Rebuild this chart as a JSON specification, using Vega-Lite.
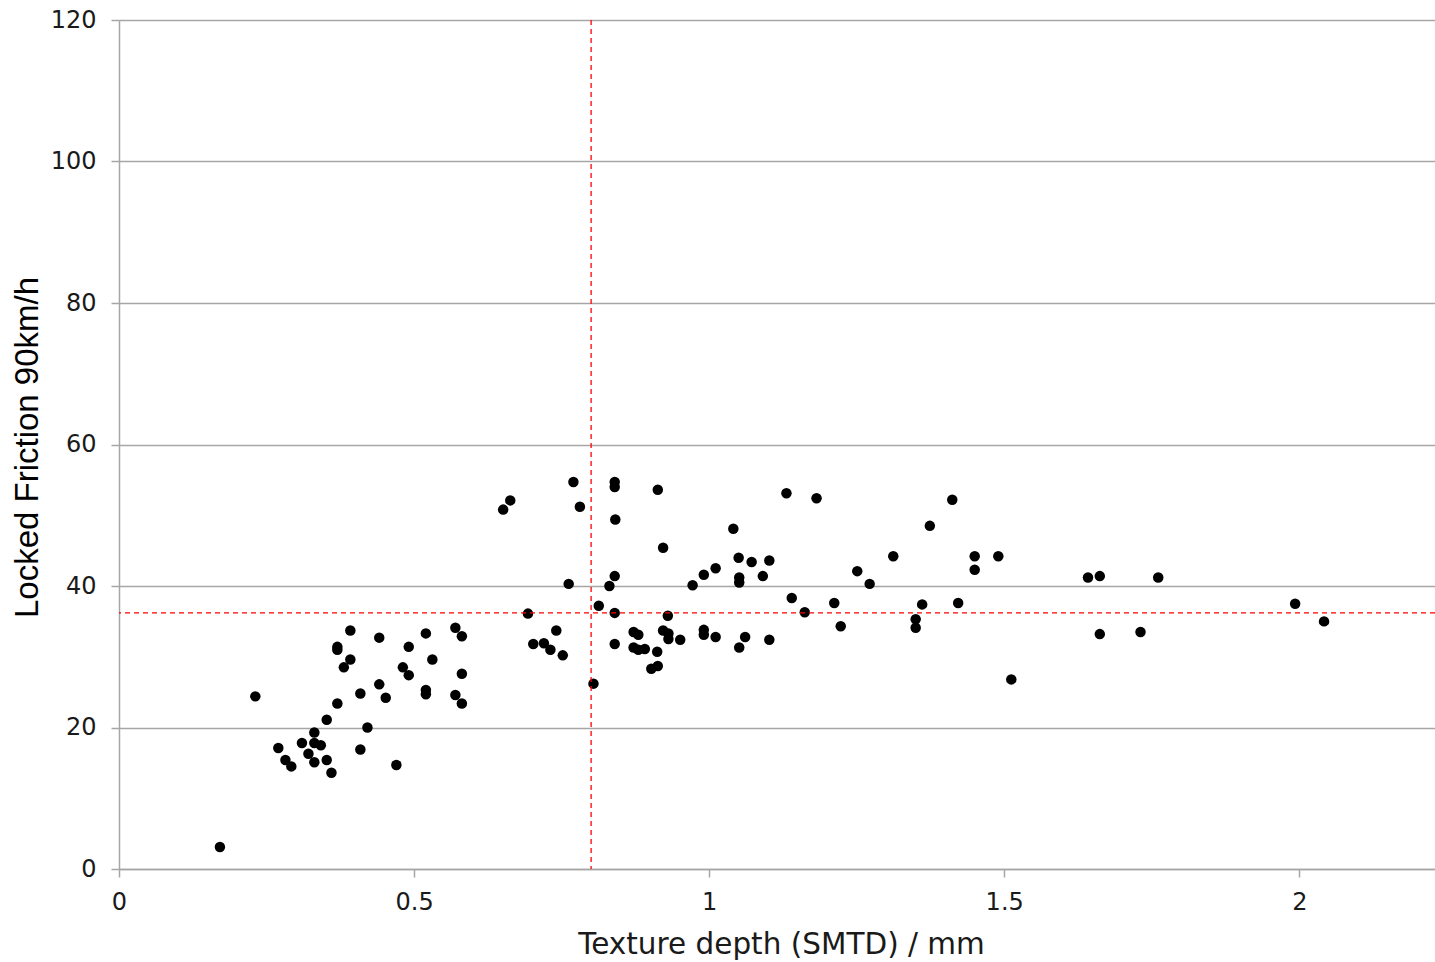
{
  "$schema": "https://vega.github.io/schema/vega-lite/v6.json",
  "width": 1316,
  "height": 849,
  "autosize": {"type": "none"},
  "padding": {"left": 119, "top": 20, "right": 0, "bottom": 93},
  "background": "white",
  "config": {"view": {"stroke": null}},
  "datasets": {
    "points": [
      {"smtd": 0.171, "friction": 3.1}, {"smtd": 0.231, "friction": 24.4}, {"smtd": 0.270, "friction": 17.1},
      {"smtd": 0.282, "friction": 15.4}, {"smtd": 0.292, "friction": 14.5}, {"smtd": 0.310, "friction": 17.8},
      {"smtd": 0.321, "friction": 16.3}, {"smtd": 0.331, "friction": 19.3}, {"smtd": 0.331, "friction": 17.8},
      {"smtd": 0.342, "friction": 17.5}, {"smtd": 0.331, "friction": 15.1}, {"smtd": 0.352, "friction": 15.4},
      {"smtd": 0.360, "friction": 13.6}, {"smtd": 0.352, "friction": 21.1}, {"smtd": 0.370, "friction": 23.4},
      {"smtd": 0.409, "friction": 16.9}, {"smtd": 0.421, "friction": 20.0}, {"smtd": 0.470, "friction": 14.7},
      {"smtd": 0.370, "friction": 31.4}, {"smtd": 0.370, "friction": 31.0}, {"smtd": 0.392, "friction": 33.7},
      {"smtd": 0.392, "friction": 29.6}, {"smtd": 0.381, "friction": 28.5}, {"smtd": 0.409, "friction": 24.8},
      {"smtd": 0.441, "friction": 32.7}, {"smtd": 0.441, "friction": 26.1}, {"smtd": 0.452, "friction": 24.2},
      {"smtd": 0.491, "friction": 31.4}, {"smtd": 0.481, "friction": 28.5}, {"smtd": 0.491, "friction": 27.4},
      {"smtd": 0.520, "friction": 33.3}, {"smtd": 0.531, "friction": 29.6}, {"smtd": 0.520, "friction": 25.3},
      {"smtd": 0.520, "friction": 24.7}, {"smtd": 0.570, "friction": 34.1}, {"smtd": 0.581, "friction": 32.9},
      {"smtd": 0.581, "friction": 27.6}, {"smtd": 0.570, "friction": 24.6}, {"smtd": 0.581, "friction": 23.4},
      {"smtd": 0.663, "friction": 52.1}, {"smtd": 0.651, "friction": 50.8}, {"smtd": 0.770, "friction": 54.7},
      {"smtd": 0.781, "friction": 51.2}, {"smtd": 0.840, "friction": 54.7}, {"smtd": 0.840, "friction": 54.0},
      {"smtd": 0.913, "friction": 53.6}, {"smtd": 0.841, "friction": 49.4}, {"smtd": 0.922, "friction": 45.4},
      {"smtd": 0.840, "friction": 41.4}, {"smtd": 0.762, "friction": 40.3}, {"smtd": 0.831, "friction": 40.0},
      {"smtd": 0.972, "friction": 40.1}, {"smtd": 0.693, "friction": 36.1}, {"smtd": 0.813, "friction": 37.2},
      {"smtd": 0.840, "friction": 36.2}, {"smtd": 0.930, "friction": 35.8}, {"smtd": 0.741, "friction": 33.7},
      {"smtd": 0.702, "friction": 31.8}, {"smtd": 0.720, "friction": 31.9}, {"smtd": 0.731, "friction": 31.0},
      {"smtd": 0.752, "friction": 30.2}, {"smtd": 0.840, "friction": 31.8}, {"smtd": 0.872, "friction": 33.5},
      {"smtd": 0.880, "friction": 33.1}, {"smtd": 0.872, "friction": 31.3}, {"smtd": 0.880, "friction": 31.0},
      {"smtd": 0.891, "friction": 31.1}, {"smtd": 0.912, "friction": 30.7}, {"smtd": 0.902, "friction": 28.3},
      {"smtd": 0.913, "friction": 28.7}, {"smtd": 0.922, "friction": 33.7}, {"smtd": 0.931, "friction": 33.3},
      {"smtd": 0.931, "friction": 32.5}, {"smtd": 0.951, "friction": 32.4}, {"smtd": 0.804, "friction": 26.2},
      {"smtd": 1.041, "friction": 48.1}, {"smtd": 1.050, "friction": 44.0}, {"smtd": 1.072, "friction": 43.4},
      {"smtd": 1.102, "friction": 43.6}, {"smtd": 1.011, "friction": 42.5}, {"smtd": 0.991, "friction": 41.6},
      {"smtd": 1.051, "friction": 41.2}, {"smtd": 1.051, "friction": 40.5}, {"smtd": 1.091, "friction": 41.4},
      {"smtd": 0.991, "friction": 33.8}, {"smtd": 0.991, "friction": 33.1}, {"smtd": 1.011, "friction": 32.8},
      {"smtd": 1.061, "friction": 32.8}, {"smtd": 1.051, "friction": 31.3}, {"smtd": 1.102, "friction": 32.4},
      {"smtd": 1.140, "friction": 38.3}, {"smtd": 1.162, "friction": 36.3}, {"smtd": 1.131, "friction": 53.1},
      {"smtd": 1.182, "friction": 52.4}, {"smtd": 1.412, "friction": 52.2}, {"smtd": 1.374, "friction": 48.5},
      {"smtd": 1.312, "friction": 44.2}, {"smtd": 1.450, "friction": 44.2}, {"smtd": 1.490, "friction": 44.2},
      {"smtd": 1.450, "friction": 42.3}, {"smtd": 1.251, "friction": 42.1}, {"smtd": 1.272, "friction": 40.3},
      {"smtd": 1.212, "friction": 37.6}, {"smtd": 1.223, "friction": 34.3}, {"smtd": 1.361, "friction": 37.4},
      {"smtd": 1.422, "friction": 37.6}, {"smtd": 1.350, "friction": 35.3}, {"smtd": 1.350, "friction": 34.1},
      {"smtd": 1.512, "friction": 26.8}, {"smtd": 1.642, "friction": 41.2}, {"smtd": 1.662, "friction": 41.4},
      {"smtd": 1.761, "friction": 41.2}, {"smtd": 1.662, "friction": 33.2}, {"smtd": 1.731, "friction": 33.5},
      {"smtd": 1.993, "friction": 37.5}, {"smtd": 2.042, "friction": 35.0}
    ],
    "vthreshold": [{"smtd": 0.8}],
    "hthreshold": [{"friction": 36.2}]
  },
  "layer": [
    {
      "data": {"name": "points"},
      "mark": {"type": "point", "shape": "circle", "filled": true, "size": 110, "color": "#000000", "opacity": 1},
      "encoding": {
        "x": {
          "field": "smtd", "type": "quantitative",
          "scale": {"domain": [0, 2.23], "nice": false, "zero": false},
          "axis": {
            "title": "Texture depth (SMTD) / mm",
            "values": [0, 0.5, 1, 1.5, 2],
            "format": "~g",
            "grid": false,
            "domainColor": "#a6a6a6", "domainWidth": 1.5,
            "tickColor": "#a6a6a6", "tickWidth": 1.5, "tickSize": 8,
            "labelFont": "DejaVu Sans", "labelFontSize": 24, "labelColor": "#1a1a1a", "labelPadding": 13,
            "labelFlush": false, "labelOverlap": false,
            "titleFont": "DejaVu Sans", "titleFontSize": 29.5, "titleFontWeight": "normal", "titleColor": "#1a1a1a",
            "titleX": 662, "titleY": 84, "titleBaseline": "alphabetic", "titleAlign": "center"
          }
        },
        "y": {
          "field": "friction", "type": "quantitative",
          "scale": {"domain": [0, 120], "nice": false},
          "axis": {
            "title": "Locked Friction 90km/h",
            "values": [0, 20, 40, 60, 80, 100, 120],
            "grid": true, "gridColor": "#a6a6a6", "gridWidth": 1.5,
            "domainColor": "#a6a6a6", "domainWidth": 1.5,
            "tickColor": "#a6a6a6", "tickWidth": 1.5, "tickSize": 8,
            "labelFont": "DejaVu Sans", "labelFontSize": 24, "labelColor": "#1a1a1a", "labelPadding": 15,
            "labelFlush": false, "labelOverlap": false,
            "titleFont": "Liberation Sans", "titleFontSize": 33, "titleFontWeight": "normal", "titleColor": "#000000",
            "titleX": -82, "titleY": 427, "titleBaseline": "alphabetic", "titleAlign": "center", "titleAngle": -90
          }
        }
      }
    },
    {
      "data": {"name": "vthreshold"},
      "mark": {"type": "rule", "color": "#ff0000", "strokeWidth": 1.3, "strokeDash": [5, 4]},
      "encoding": {"x": {"field": "smtd", "type": "quantitative"}}
    },
    {
      "data": {"name": "hthreshold"},
      "mark": {"type": "rule", "color": "#ff0000", "strokeWidth": 1.3, "strokeDash": [5, 4]},
      "encoding": {"y": {"field": "friction", "type": "quantitative"}}
    }
  ]
}
